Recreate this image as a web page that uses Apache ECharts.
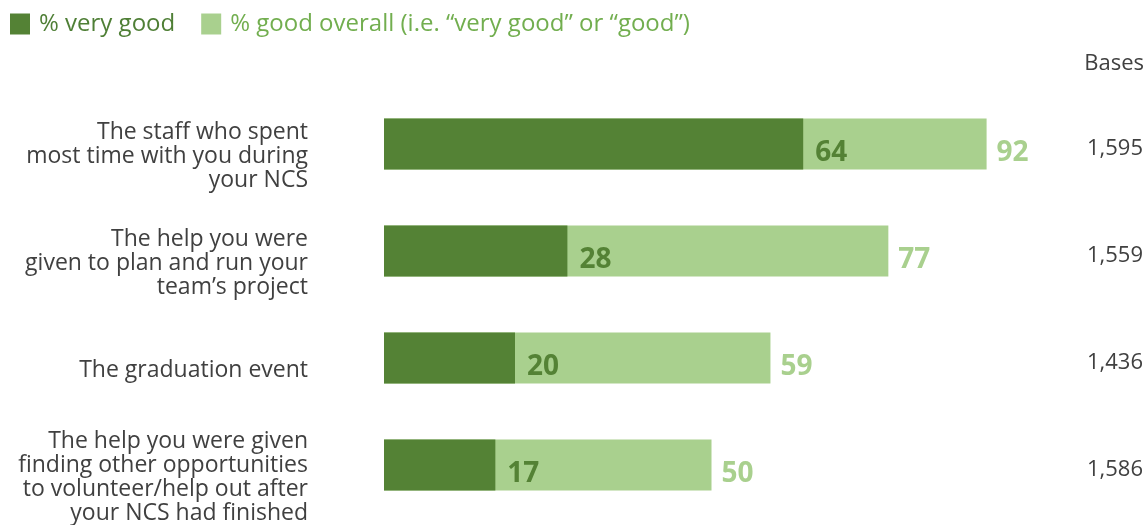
<!DOCTYPE html>
<html>
<head>
<meta charset="utf-8">
<script src="https://cdn.jsdelivr.net/npm/echarts@6/dist/echarts.min.js"></script>
<style>
html,body{margin:0;padding:0;background:#fff;}
#chart{width:1146px;height:525px;}
</style>
</head>
<body>
<div id="chart"></div>
<script>
const categories = [
  "The staff who spent\nmost time with you during\nyour NCS",
  "The help you were\ngiven to plan and run your\nteam\u2019s project",
  "The graduation event",
  "The help you were given\nfinding other opportunities\nto volunteer/help out after\nyour NCS had finished"
];
const veryGood = [64, 28, 20, 17];
const goodOverall = [92, 77, 59, 50];
const bases = ["1,595", "1,559", "1,436", "1,586"];
const seriesNames = ["% very good", "% good overall (i.e. \u201cvery good\u201d or \u201cgood\u201d)"];

const DARK = "#548235";
const LIGHT = "#a9d08e";
const FONT = "'Open Sans', 'Noto Sans', sans-serif";

const chart = echarts.init(document.getElementById('chart'));
chart.setOption({
  animation: false,
  textStyle: { fontFamily: FONT },
  title: {
    text: "Bases",
    right: -3,
    top: 48,
    textStyle: { fontFamily: FONT, fontSize: 22, fontWeight: 'normal', color: '#404040' }
  },
  legend: {
    left: 5,
    top: 7,
    itemWidth: 20,
    itemHeight: 21,
    itemGap: 26,
    icon: 'rect',
    data: [
      { name: seriesNames[0], textStyle: { color: '#4f7f36' } },
      { name: seriesNames[1], textStyle: { color: '#72ae4f' } }
    ],
    textStyle: { fontFamily: FONT, fontSize: 24, padding: [0, 0, 0, 4] }
  },
  grid: { left: 384, width: 655, top: 90.5, height: 428 },
  xAxis: { type: 'value', min: 0, max: 100, show: false },
  yAxis: [
    {
      type: 'category',
      data: categories,
      inverse: true,
      axisLine: { show: false },
      axisTick: { show: false },
      axisLabel: {
        margin: 76,
        fontFamily: FONT,
        fontSize: 23,
        lineHeight: 24,
        color: '#404040',
        align: 'right',
        formatter: function (v) { return '\n' + v; }
      }
    },
    {
      type: 'category',
      data: bases,
      inverse: true,
      position: 'right',
      axisLine: { show: false },
      axisTick: { show: false },
      axisLabel: {
        margin: 104,
        align: 'right',
        formatter: function (v) { return '{a|' + v + '}'; },
        rich: {
          a: { fontFamily: FONT, fontSize: 22, color: '#404040', padding: [9, 0, 0, 0] }
        }
      }
    }
  ],
  series: [
    {
      name: seriesNames[1],
      type: 'bar',
      data: goodOverall,
      barWidth: 51,
      barGap: '-100%',
      itemStyle: { color: LIGHT },
      label: {
        show: true,
        position: 'right',
        distance: 10,
        offset: [0, 9],
        color: LIGHT,
        fontFamily: FONT,
        fontSize: 28,
        fontWeight: 'bold'
      }
    },
    {
      name: seriesNames[0],
      type: 'bar',
      data: veryGood,
      barWidth: 51,
      barGap: '-100%',
      itemStyle: { color: DARK },
      label: {
        show: true,
        position: 'right',
        distance: 12,
        offset: [0, 9],
        color: DARK,
        fontFamily: FONT,
        fontSize: 28,
        fontWeight: 'bold'
      }
    }
  ]
});
</script>
</body>
</html>
